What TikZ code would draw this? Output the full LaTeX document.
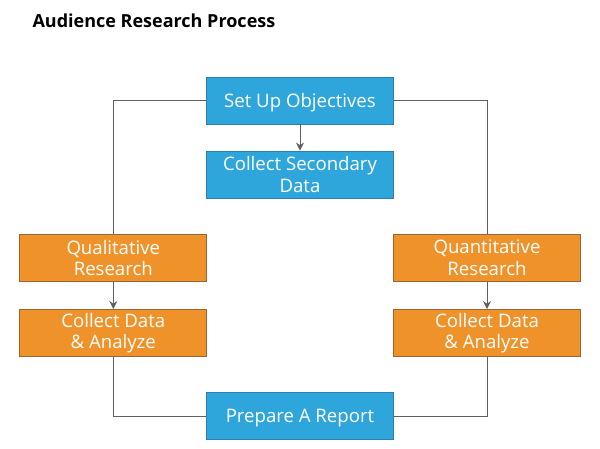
\documentclass[tikz,border=0pt]{standalone}
\usepackage{fontspec}
\setmainfont{Open Sans}
\usetikzlibrary{arrows.meta}
\definecolor{boxblue}{HTML}{2EA6DC}
\definecolor{blueedge}{HTML}{2C7FAE}
\definecolor{boxorange}{HTML}{F0922A}
\definecolor{orangeedge}{HTML}{9C6634}
\definecolor{linegrey}{HTML}{606060}
\tikzset{
  stepbox/.style={draw, line width=0.9pt, minimum width=187pt, minimum height=47pt,
    inner sep=0pt, text=white, align=center, font=\fontsize{18.6}{21.5}\selectfont},
  oneline/.style={text height=14pt, text depth=1pt},
  bluebox/.style={stepbox, fill=boxblue, draw=blueedge},
  orangebox/.style={stepbox, fill=boxorange, draw=orangeedge},
  conn/.style={draw=linegrey, line width=1pt},
  arr/.style={conn, -{Stealth[length=8pt,width=8pt]}}
}
\begin{document}
\begin{tikzpicture}[x=1pt,y=-1pt]
\useasboundingbox (0,0) rectangle (600,448);
\node[anchor=west, font=\fontsize{18}{22}\selectfont\bfseries] (title) at (29,21) {Audience Research Process};
\node[bluebox, oneline] (setup) at (300,100.5) {Set Up Objectives};
\node[bluebox] (sec) at (300,174.5) {Collect Secondary\\Data};
\node[orangebox] (qual) at (113.3,258) {Qualitative\\Research};
\node[orangebox] (qualc) at (113.3,333) {Collect Data\\\& Analyze};
\node[orangebox] (quant) at (487,258) {Quantitative\\Research};
\node[orangebox] (quantc) at (487,333) {Collect Data\\\& Analyze};
\node[bluebox, oneline] (report) at (300,416.3) {Prepare A Report};
\draw[arr] (setup) -- (sec);
\draw[arr] (qual) -- (qualc);
\draw[arr] (quant) -- (quantc);
\draw[conn] (setup.west) -| (qual.north);
\draw[conn] (setup.east) -| (quant.north);
\draw[conn] (qualc.south) |- (report.west);
\draw[conn] (quantc.south) |- (report.east);
\end{tikzpicture}
\end{document}
